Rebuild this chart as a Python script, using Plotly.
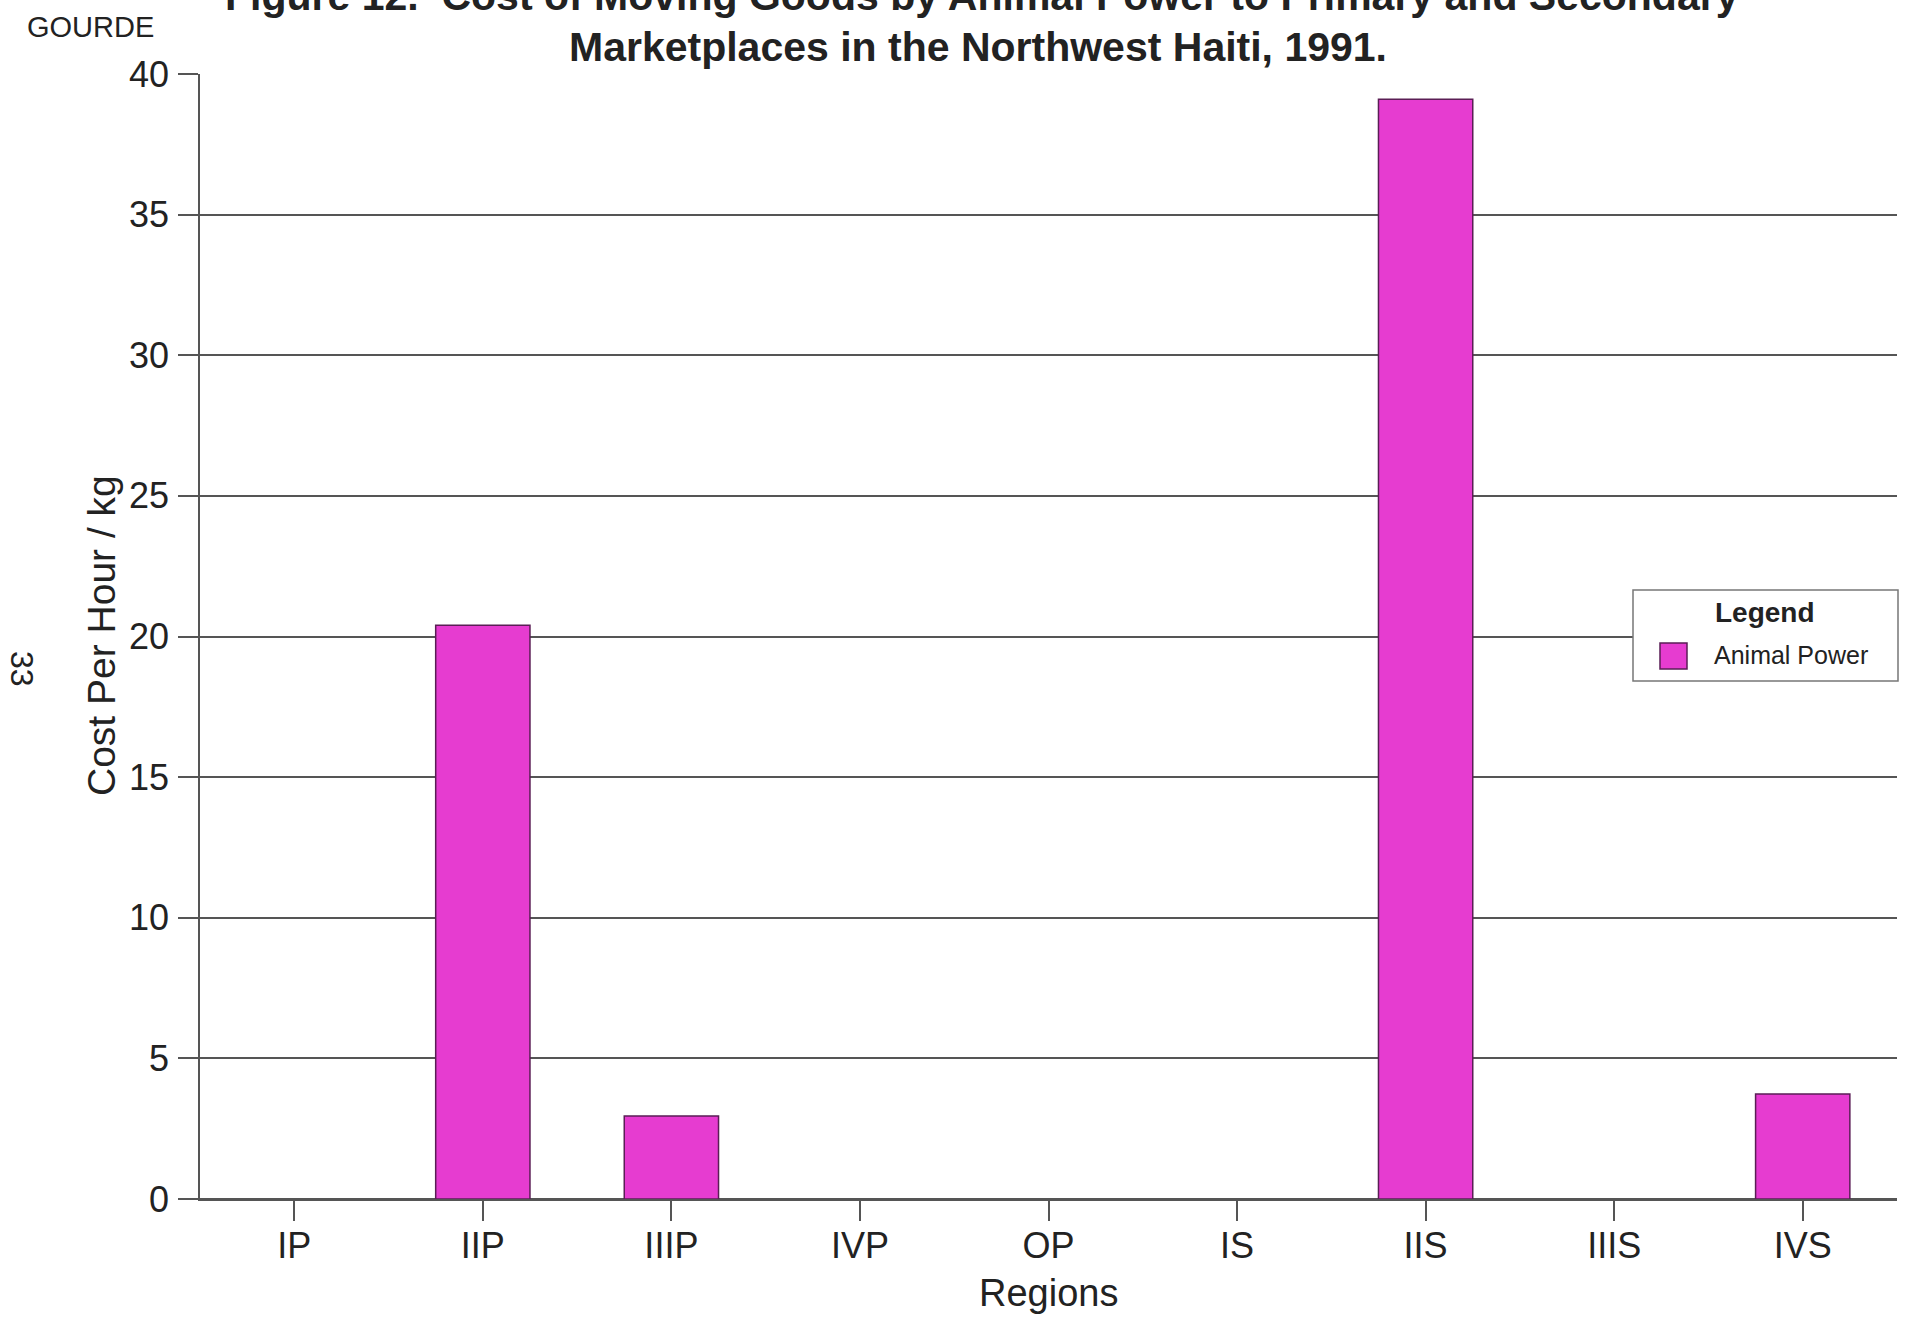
import plotly.graph_objects as go

# Regions (P = primary marketplaces, S = secondary marketplaces)
regions = ["IP", "IIP", "IIIP", "IVP", "OP", "IS", "IIS", "IIIS", "IVS"]
# Cost per hour per kg (gourde) when goods are moved by animal power
animal_power = [None, 20.4, 2.95, None, None, None, 39.1, None, 3.73]
y_ticks = [0, 5, 10, 15, 20, 25, 30, 35, 40]

W, H = 1907, 1318
M_LEFT, M_RIGHT, M_TOP, M_BOTTOM = 200, 10, 74, 119
PLOT_W = W - M_LEFT - M_RIGHT
PLOT_H = H - M_TOP - M_BOTTOM


def px_x(x):
    return (x - M_LEFT) / PLOT_W


def px_y(y):
    return (H - M_BOTTOM - y) / PLOT_H


FONT = "Liberation Sans, Arial, Helvetica, sans-serif"
GRID = "#555555"
BAR_FILL = "#E63CD0"
BAR_EDGE = "#5A1E55"

fig = go.Figure()
fig.add_trace(go.Bar(
    x=regions,
    y=animal_power,
    name="Animal Power",
    marker=dict(color=BAR_FILL, line=dict(color=BAR_EDGE, width=1.5)),
    showlegend=False,
))

fig.update_layout(
    width=W,
    height=H,
    margin=dict(l=M_LEFT, r=M_RIGHT, t=M_TOP, b=M_BOTTOM, pad=0),
    paper_bgcolor="white",
    plot_bgcolor="white",
    bargap=0.5,
    font=dict(family=FONT, color="#222222"),
    xaxis=dict(
        type="category",
        categoryorder="array",
        categoryarray=regions,
        range=[-0.5, len(regions) - 0.5],
        showgrid=False,
        showline=True,
        linecolor=GRID,
        linewidth=1.5,
        ticks="outside",
        ticklen=20,
        tickwidth=1.5,
        tickcolor=GRID,
        ticklabelstandoff=-6,
        tickfont=dict(size=36, family=FONT, color="#222222"),
        fixedrange=True,
    ),
    yaxis=dict(
        range=[0, 40],
        tickvals=y_ticks,
        showgrid=True,
        gridcolor=GRID,
        gridwidth=1.5,
        zeroline=True,
        zerolinecolor=GRID,
        zerolinewidth=1.5,
        showline=True,
        linecolor=GRID,
        linewidth=1.5,
        ticks="outside",
        ticklen=20,
        tickwidth=1.5,
        tickcolor=GRID,
        ticklabelstandoff=2,
        tickfont=dict(size=36, family=FONT, color="#222222"),
        fixedrange=True,
    ),
)

annotations = [
    # two-line title; the first line runs off the top edge of the page
    dict(text="Figure 12.  Cost of Moving Goods by Animal Power to Primary and Secondary",
         x=px_x(982), y=px_y(-4), xanchor="center", yanchor="middle",
         font=dict(size=41, family=FONT, color="#222222", weight="bold")),
    dict(text="Marketplaces in the Northwest Haiti, 1991.",
         x=px_x(978), y=px_y(47), xanchor="center", yanchor="middle",
         font=dict(size=41, family=FONT, color="#222222", weight="bold")),
    dict(text="GOURDE", x=px_x(90), y=px_y(27), xanchor="center", yanchor="middle",
         font=dict(size=29, family=FONT, color="#222222")),
    dict(text="Cost Per Hour / kg", x=px_x(101), y=px_y(636), textangle=-90,
         xanchor="center", yanchor="middle",
         font=dict(size=39, family=FONT, color="#222222")),
    dict(text="Regions", x=px_x(1048), y=px_y(1293), xanchor="center", yanchor="middle",
         font=dict(size=38, family=FONT, color="#222222")),
    dict(text="33", x=px_x(22), y=px_y(669), textangle=90,
         xanchor="center", yanchor="middle",
         font=dict(size=32, family=FONT, color="#222222")),
    # legend box contents
    dict(text="<b>Legend</b>", x=px_x(1765), y=px_y(612), xanchor="center", yanchor="middle",
         font=dict(size=28, family=FONT, color="#222222")),
    dict(text="Animal Power", x=px_x(1712), y=px_y(655), xanchor="left", yanchor="middle",
         font=dict(size=25, family=FONT, color="#222222")),
]
for a in annotations:
    a.update(xref="paper", yref="paper", showarrow=False)
fig.update_layout(annotations=annotations)

fig.update_layout(shapes=[
    dict(type="rect", xref="paper", yref="paper",
         x0=px_x(1633), x1=px_x(1898), y0=px_y(681), y1=px_y(590),
         fillcolor="white", line=dict(color="#777777", width=1.5), layer="above"),
    dict(type="rect", xref="paper", yref="paper",
         x0=px_x(1660), x1=px_x(1687), y0=px_y(669), y1=px_y(643),
         fillcolor=BAR_FILL, line=dict(color=BAR_EDGE, width=1.5), layer="above"),
])

fig.write_html("out.html", config=dict(displayModeBar=False))
